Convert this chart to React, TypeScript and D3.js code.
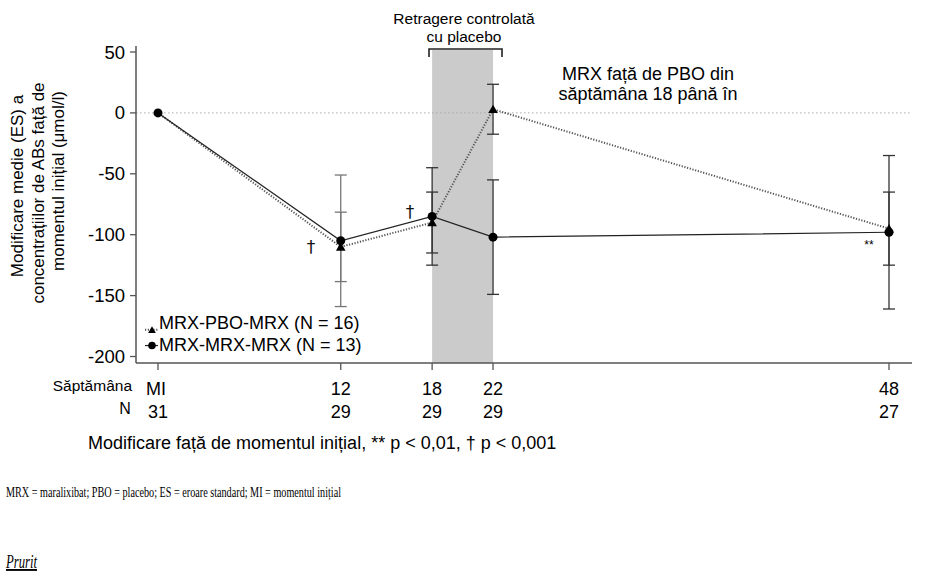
import React from 'react';
import * as d3 from 'd3';

// weeks of follow-up and patients with data at each visit
const weeks = [0, 12, 18, 22, 48];
const weekLabels = ['MI', '12', '18', '22', '48'];
const nLabels = ['31', '29', '29', '29', '27'];

// mean change from baseline (µmol/l) and standard error per arm
const pboMean = [0, -110, -90, 3, -95];
const pboSe = [0, 28.5, 25, 20.5, 30];
const mrxMean = [0, -105, -85, -102, -98];
const mrxSe = [0, 54, 40, 47, 63];

const yTicks = [50, 0, -50, -100, -150, -200];

const font = 'Liberation Sans, Arial, sans-serif';
const serif = 'Liberation Serif, Times New Roman, serif';

export default function App() {
  const width = 925;
  const height = 586;
  const axisX = 136;
  const axisY = 363;
  const right = 912;

  // x value scaling (weeks)
  const x = d3.scaleLinear().domain([0, 48]).range([158, 889]);
  // y value scaling (change from baseline)
  const y = d3.scaleLinear().domain([-200, 50]).range([356.5, 52]);

  const line = d3
    .line<number>()
    .x((d, i) => x(weeks[i]))
    .y((d) => y(d));

  const tri = d3.symbol().type(d3.symbolTriangle).size(40)();

  // error bars, skipping baseline where SE is zero
  const bars = (means: number[], ses: number[], key: string) =>
    means.map((m, i) => {
      if (!ses[i]) return null;
      const cx = x(weeks[i]);
      const top = y(m + ses[i]);
      const bot = y(m - ses[i]);
      const stroke = weeks[i] === 12 ? '#777' : '#333';
      return (
        <g key={key + i} stroke={stroke} strokeWidth={1.3}>
          <line x1={cx} x2={cx} y1={top} y2={bot} />
          <line x1={cx - 6} x2={cx + 6} y1={top} y2={top} />
          <line x1={cx - 6} x2={cx + 6} y1={bot} y2={bot} />
        </g>
      );
    });

  return (
    <svg
      width={width}
      height={height}
      style={{ position: 'absolute', left: 0, top: 0, background: '#fff' }}
      fontFamily={font}
      fill="#000"
    >
      {/* placebo withdrawal window */}
      <rect x={x(18)} y={50} width={x(22) - x(18)} height={axisY - 50} fill="#cbcbcb" />
      <path d="M429,57 V49 H502 V57" fill="none" stroke="#222" strokeWidth={1.6} />
      <text x={464} y={24} fontSize={15.5} textAnchor="middle">Retragere controlată</text>
      <text x={464} y={42} fontSize={15.5} textAnchor="middle">cu placebo</text>

      <text x={648} y={80} fontSize={18} textAnchor="middle">MRX față de PBO din</text>
      <text x={648} y={100} fontSize={18} textAnchor="middle">săptămâna 18 până în</text>

      {/* baseline reference */}
      <line x1={axisX} x2={right} y1={y(0)} y2={y(0)} stroke="#aaa" strokeDasharray="1.5,2.5" />

      {/* axes */}
      <line x1={axisX} x2={axisX} y1={46} y2={axisY} stroke="#555" strokeWidth={1.5} />
      <line x1={axisX} x2={right} y1={axisY} y2={axisY} stroke="#555" strokeWidth={1.5} />
      {yTicks.map((t) => (
        <g key={t}>
          <line x1={axisX - 6} x2={axisX} y1={y(t)} y2={y(t)} stroke="#555" strokeWidth={1.3} />
          <text x={axisX - 11} y={y(t) + 6.5} fontSize={18.5} textAnchor="end">
            {t}
          </text>
        </g>
      ))}
      {weeks.map((w, i) => (
        <g key={w}>
          <line x1={x(w)} x2={x(w)} y1={axisY} y2={axisY + 7} stroke="#555" strokeWidth={1.3} />
          <text x={x(w) - (i === 0 ? 2 : 0)} y={395} fontSize={18} textAnchor="middle">
            {weekLabels[i]}
          </text>
          <text x={x(w)} y={418} fontSize={18} textAnchor="middle">
            {nLabels[i]}
          </text>
        </g>
      ))}
      <text x={132} y={391} fontSize={15.5} textAnchor="end">Săptămâna</text>
      <text x={125} y={414} fontSize={16} textAnchor="middle">N</text>

      <text transform="translate(23,186) rotate(-90)" fontSize={17} textAnchor="middle">
        Modificare medie (ES) a
      </text>
      <text transform="translate(44,193) rotate(-90)" fontSize={17} textAnchor="middle">
        concentrațiilor de ABs față de
      </text>
      <text transform="translate(64,181) rotate(-90)" fontSize={17} textAnchor="middle">
        momentul inițial (μmol/l)
      </text>

      {/* error bars */}
      {bars(mrxMean, mrxSe, 'm')}
      {bars(pboMean, pboSe, 'p')}

      {/* series lines */}
      <path d={line(pboMean) ?? ''} fill="none" stroke="#555" strokeWidth={2} strokeDasharray="1.2,1.6" />
      <path d={line(mrxMean) ?? ''} fill="none" stroke="#222" strokeWidth={1.2} />

      {pboMean.map((m, i) =>
        i === 0 ? null : (
          <path key={'t' + i} d={tri ?? ''} transform={`translate(${x(weeks[i])},${y(m) + 1})`} fill="#000" />
        ),
      )}
      {mrxMean.map((m, i) => (
        <circle key={'c' + i} cx={x(weeks[i])} cy={y(m)} r={4.5} fill="#000" />
      ))}

      {/* significance marks */}
      <g fontFamily="DejaVu Sans, sans-serif" fill="#111">
        <text x={311} y={253} fontSize={17} textAnchor="middle">†</text>
        <text x={410} y={218} fontSize={17} textAnchor="middle">†</text>
      </g>
      <text x={869} y={249} fontSize={12} textAnchor="middle">**</text>

      {/* legend */}
      <line x1={145} x2={158} y1={y(-178)} y2={y(-178)} stroke="#555" strokeWidth={2} strokeDasharray="1.2,1.6" />
      <path d={tri ?? ''} transform={`translate(152,${y(-178) + 1}) scale(0.8)`} fill="#000" />
      <text x={159} y={329} fontSize={18}>MRX-PBO-MRX (N = 16)</text>
      <line x1={145} x2={158} y1={y(-191)} y2={y(-191)} stroke="#222" strokeWidth={1.2} />
      <circle cx={152} cy={y(-191)} r={3.8} fill="#000" />
      <text x={159} y={351} fontSize={18}>MRX-MRX-MRX (N = 13)</text>

      <text x={88} y={449} fontSize={18}>
        Modificare față de momentul inițial, ** p &lt; 0,01, † p &lt; 0,001
      </text>

      <text x={6} y={497} fontSize={14.5} fontFamily={serif} textLength={335} lengthAdjust="spacingAndGlyphs">
        MRX = maralixibat; PBO = placebo; ES = eroare standard; MI = momentul inițial
      </text>
      <text
        x={6}
        y={568}
        fontSize={19}
        fontStyle="italic"
        textDecoration="underline"
        fontFamily={serif}
        textLength={31}
        lengthAdjust="spacingAndGlyphs"
      >
        Prurit
      </text>
    </svg>
  );
}
